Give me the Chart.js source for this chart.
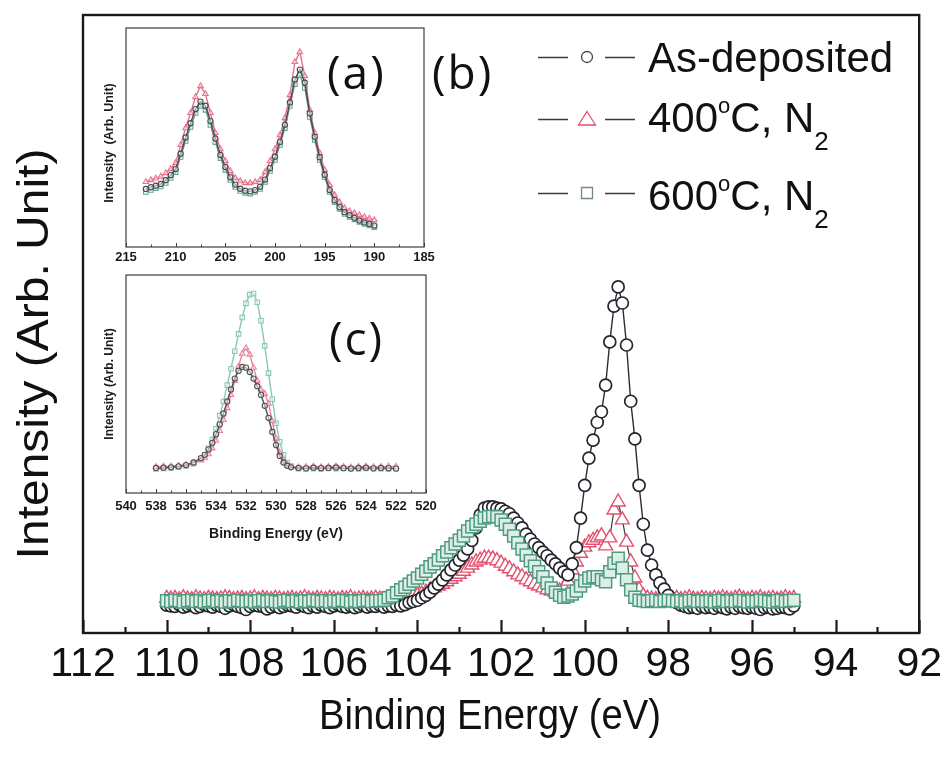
<!DOCTYPE html>
<html>
<head>
<meta charset="utf-8">
<script src="https://cdn.jsdelivr.net/npm/chart.js@4.4.1/dist/chart.umd.min.js"></script>
<style>
  html, body { margin: 0; padding: 0; background: #ffffff; }
  #wrap { position: relative; width: 949px; height: 760px; overflow: hidden; }
  #wrap canvas { position: absolute; }
  #main { left: 0; top: 0; }
  #insetA { left: 95px; top: 20px; }
  #insetC { left: 95px; top: 267px; }
</style>
</head>
<body>
<div id="wrap">
  <canvas id="main" width="949" height="760" style="width:949px;height:760px"></canvas>
  <canvas id="insetA" width="350" height="252" style="width:350px;height:252px"></canvas>
  <canvas id="insetC" width="350" height="285" style="width:350px;height:285px"></canvas>
</div>
<script>
// ---------- Si 2p region (main panel) ----------
const energy = [
  110.0,109.9,109.8,109.7,109.6,109.5,109.4,109.3,109.2,109.1,
  109.0,108.9,108.8,108.7,108.6,108.5,108.4,108.3,108.2,108.1,
  108.0,107.9,107.8,107.7,107.6,107.5,107.4,107.3,107.2,107.1,
  107.0,106.9,106.8,106.7,106.6,106.5,106.4,106.3,106.2,106.1,
  106.0,105.9,105.8,105.7,105.6,105.5,105.4,105.3,105.2,105.1,
  105.0,104.9,104.8,104.7,104.6,104.5,104.4,104.3,104.2,104.1,
  104.0,103.9,103.8,103.7,103.6,103.5,103.4,103.3,103.2,103.1,
  103.0,102.9,102.8,102.7,102.6,102.5,102.4,102.3,102.2,102.1,
  102.0,101.9,101.8,101.7,101.6,101.5,101.4,101.3,101.2,101.1,
  101.0,100.9,100.8,100.7,100.6,100.5,100.4,100.3,100.2,100.1,
  100.0,99.9,99.8,99.7,99.6,99.5,99.4,99.3,99.2,99.1,
  99.0,98.9,98.8,98.7,98.6,98.5,98.4,98.3,98.2,98.1,
  98.0,97.9,97.8,97.7,97.6,97.5,97.4,97.3,97.2,97.1,
  97.0,96.9,96.8,96.7,96.6,96.5,96.4,96.3,96.2,96.1,
  96.0,95.9,95.8,95.7,95.6,95.5,95.4,95.3,95.2,95.1,
  95.0
];
const asDeposited = [
  4.5,4.4,4.3,4.6,4.2,4.4,4.5,4.1,4.3,4.6,
  4.4,4.2,4.5,4.3,4.0,4.4,4.6,4.3,4.1,3.8,
  4.3,4.5,4.4,4.3,3.9,4.2,4.4,4.1,4.3,4.5,
  4.4,4.2,4.6,4.3,4.1,4.4,4.2,4.5,4.3,4.1,
  4.4,4.6,4.3,4.2,4.4,4.1,4.3,4.5,4.2,4.4,
  4.3,4.5,4.2,4.4,4.3,4.5,4.4,4.6,4.9,5.1,
  5.3,5.7,6.1,6.6,7.3,7.9,8.6,9.4,10.2,11.0,
  11.8,12.6,13.6,15.0,17.0,19.1,20.2,20.4,20.4,20.2,
  20.1,19.7,19.3,18.6,17.8,17.0,16.0,15.2,14.4,13.8,
  13.1,12.5,11.8,11.2,10.5,9.9,9.4,11.2,13.8,18.6,
  23.9,28.3,31.2,34.1,35.8,40.1,47.1,52.9,56.0,53.4,
  46.6,37.5,31.4,23.9,17.6,13.4,11.0,9.4,8.1,7.1,
  6.1,5.3,4.9,4.5,4.3,4.1,4.2,4.0,4.3,4.1,
  4.2,4.0,4.3,4.1,3.9,4.2,4.0,4.3,4.1,4.0,
  4.2,4.0,3.8,4.1,4.2,3.9,4.0,4.2,4.1,3.9,
  4.4
];
const annealed400 = [
  5.6,5.5,5.6,5.4,5.7,5.5,5.4,5.7,5.5,5.4,
  5.6,5.5,5.4,5.5,5.7,5.6,5.4,5.5,5.6,5.4,
  5.5,5.7,5.4,5.6,5.5,5.4,5.6,5.5,5.4,5.5,
  5.6,5.4,5.5,5.7,5.5,5.4,5.6,5.5,5.4,5.6,
  5.5,5.4,5.6,5.5,5.7,5.4,5.5,5.6,5.4,5.5,
  5.6,5.5,5.4,5.6,5.5,5.5,5.6,5.7,5.8,6.0,
  6.1,6.3,6.6,7.0,7.3,7.6,7.9,8.3,8.7,9.1,
  9.5,10.0,10.5,11.0,11.5,11.8,12.1,12.1,12.0,11.7,
  11.3,10.8,10.4,9.9,9.4,9.1,8.6,8.3,7.9,7.6,
  7.3,7.0,6.8,6.6,6.8,7.3,8.4,10.2,11.5,12.9,
  13.9,14.6,15.0,15.4,15.7,14.1,15.4,19.9,21.2,18.3,
  14.7,11.5,8.9,7.0,6.0,5.6,5.5,5.4,5.5,5.6,
  5.4,5.5,5.6,5.4,5.5,5.7,5.5,5.4,5.6,5.5,
  5.4,5.6,5.5,5.7,5.5,5.4,5.6,5.8,5.5,5.4,
  5.6,5.5,5.7,5.4,5.5,5.6,5.4,5.5,5.7,5.5,
  5.6
];
const annealed600 = [
  5.2,5.1,5.3,5.2,5.0,5.2,5.3,5.1,5.2,5.0,
  5.2,5.3,5.1,5.2,5.0,5.2,5.1,5.3,5.2,5.1,
  5.2,5.0,5.2,5.3,5.1,5.2,5.1,5.0,5.2,5.3,
  5.1,5.2,5.0,5.2,5.1,5.3,5.2,5.1,5.2,5.0,
  5.2,5.1,5.3,5.2,5.0,5.2,5.1,5.2,5.3,5.1,
  5.2,5.2,5.3,5.7,6.0,6.5,7.0,7.4,7.9,8.4,
  8.9,9.5,10.0,10.7,11.2,11.8,12.5,13.1,13.8,14.4,
  15.0,15.7,16.5,17.2,17.6,18.1,18.6,18.8,18.9,18.8,
  18.3,17.6,16.8,15.7,14.6,13.6,12.6,11.7,10.8,9.9,
  9.1,8.1,7.3,6.6,6.1,5.8,6.0,6.3,6.8,7.6,
  8.4,8.9,9.1,9.1,8.6,8.3,9.9,11.3,12.1,10.5,
  8.6,7.0,5.8,5.3,5.2,5.1,5.2,5.3,5.1,5.2,
  5.3,5.2,5.1,5.2,5.0,5.2,5.3,5.1,5.2,5.1,
  5.2,5.0,5.2,5.3,5.1,5.2,5.1,5.3,5.2,5.0,
  5.2,5.1,5.3,5.2,5.1,5.0,5.2,5.3,5.1,5.2,
  5.3
];
const mainMajorTicks = [112,110,108,106,104,102,100,98,96,94,92];
const mainMinorTicks = [111,109,107,105,103,101,99,97,95,93];
const seriesNames = ['As-deposited', '400', '600'];

// ---------- inset (a): 215-185 eV ----------
const energyA = [
  213.0,212.5,212.0,211.5,211.0,210.5,210.0,209.5,209.0,208.5,
  208.0,207.5,207.0,206.5,206.0,205.5,205.0,204.5,204.0,203.5,
  203.0,202.5,202.0,201.5,201.0,200.5,200.0,199.5,199.0,198.5,
  198.0,197.5,197.0,196.5,196.0,195.5,195.0,194.5,194.0,193.5,
  193.0,192.5,192.0,191.5,191.0,190.5,190.0
];
const insetA_asDep = [
  26.5,27.3,28.0,28.8,30.5,32.8,35.6,42.6,50.0,56.5,
  63.0,66.4,64.5,57.5,49.5,42.0,36.5,31.8,28.5,26.6,
  25.7,25.4,26.0,27.5,30.8,36.0,41.2,48.0,55.8,66.0,
  76.5,81.0,75.0,61.0,50.3,41.0,33.0,26.0,21.4,18.2,
  15.9,14.5,13.3,12.1,11.2,10.5,9.8
];
const insetA_400 = [
  29.7,30.6,31.3,32.2,33.8,35.6,38.4,46.6,54.3,61.2,
  68.5,73.5,69.9,61.2,52.1,44.7,39.3,34.7,31.5,30.1,
  29.2,29.2,29.7,30.6,34.2,39.3,44.7,51.1,58.9,69.4,
  84.5,89.0,78.1,62.6,52.1,42.9,35.2,28.3,23.7,20.5,
  17.8,16.4,15.5,14.6,13.7,13.0,12.3
];
const insetA_600 = [
  25.1,26.0,26.9,27.6,29.2,31.5,34.2,41.1,48.4,54.8,
  61.2,64.4,62.6,55.7,47.9,40.6,35.2,30.6,27.4,25.6,
  24.7,24.4,25.1,26.5,29.7,34.7,39.7,46.6,54.3,64.4,
  74.4,78.5,72.6,59.4,48.9,39.7,32.0,25.1,20.5,17.4,
  15.1,13.7,12.6,11.4,10.5,9.8,9.1
];
const insetA_major = [215,210,205,200,195,190,185];
const insetA_minor = [212.5,207.5,202.5,197.5,192.5,187.5];

// ---------- inset (c): O 1s, 540-520 eV ----------
const energyC = [
  538.0,537.5,537.0,536.5,536.0,535.5,535.0,
  534.75,534.5,534.25,534.0,533.75,533.5,533.25,533.0,532.75,532.5,532.25,532.0,
  531.75,531.5,531.25,531.0,530.75,530.5,530.25,530.0,529.75,529.5,529.25,529.0,
  528.5,528.0,527.5,527.0,526.5,526.0,525.5,525.0,524.5,524.0,523.5,523.0,522.5,522.0
];
const insetC_asDep = [
  11.5,11.6,11.8,12.2,12.8,14.0,16.0,
  17.5,20.0,23.0,27.0,31.5,36.5,42.0,47.5,52.5,56.0,57.8,57.5,
  55.5,52.5,49.0,45.0,40.0,34.5,28.0,22.0,17.0,14.0,12.5,11.8,
  11.5,11.3,11.6,11.4,11.5,11.7,11.4,11.2,11.5,11.6,11.3,11.5,11.4,11.2
];
const insetC_400 = [
  12.0,12.2,12.3,12.6,13.0,13.8,15.0,
  16.0,17.8,20.5,24.0,28.5,33.5,39.0,45.0,51.5,58.0,64.0,66.5,
  63.5,57.5,51.5,47.5,45.5,41.0,33.0,25.0,18.5,14.5,12.8,12.0,
  11.8,12.0,12.2,11.9,12.1,12.3,12.0,11.8,12.1,12.2,11.9,12.0,12.3,12.1
];
const insetC_600 = [
  11.0,11.3,11.5,11.9,12.4,13.5,15.5,
  17.5,20.5,24.5,29.5,35.5,42.0,49.5,57.0,65.0,73.0,80.5,87.0,
  91.0,91.5,87.5,79.0,67.5,55.0,43.0,32.0,23.5,17.5,14.0,12.3,
  11.2,11.0,11.2,11.0,11.3,11.1,11.4,11.2,11.0,11.3,11.1,11.2,11.0,11.1
];
const insetC_major = [540,538,536,534,532,530,528,526,524,522,520];
const insetC_minor = [539,537,535,533,531,529,527,525,523,521];

// ---------- shared helpers ----------
const SANS = "'Liberation Sans', Arial, Helvetica, sans-serif";
const PANEL_FONT = "'Open Sans', Lato, sans-serif";

const pts = (xs, ys) => xs.map((x, i) => ({ x: x, y: ys[i] }));

// Frame around the plot area plus inward ticks on the bottom axis
const frameTicks = {
  id: 'frameTicks',
  afterDatasetsDraw(chart, args, o) {
    const { ctx, chartArea: a } = chart;
    const x = chart.scales.x;
    ctx.save();
    ctx.strokeStyle = o.color;
    ctx.lineWidth = o.tickWidth;
    ctx.beginPath();
    o.major.forEach(v => {
      const px = Math.round(x.getPixelForValue(v)) + 0.5;
      ctx.moveTo(px, a.bottom); ctx.lineTo(px, a.bottom - o.majorLen);
    });
    o.minor.forEach(v => {
      const px = Math.round(x.getPixelForValue(v)) + 0.5;
      ctx.moveTo(px, a.bottom); ctx.lineTo(px, a.bottom - o.minorLen);
    });
    ctx.stroke();
    ctx.lineWidth = o.frameWidth;
    ctx.strokeRect(a.left, a.top, a.right - a.left, a.bottom - a.top);
    ctx.restore();
  }
};

// Axis titles drawn as plain canvas text (optionally narrowed)
const axisTitles = {
  id: 'axisTitles',
  afterDraw(chart, args, o) {
    const ctx = chart.ctx;
    ctx.fillStyle = o.color;
    ctx.textAlign = 'center';
    ctx.textBaseline = 'alphabetic';
    if (o.x) {
      ctx.save();
      ctx.translate(o.x.cx, o.x.base);
      ctx.scale(o.x.squeeze || 1, 1);
      ctx.font = o.x.font;
      ctx.fillText(o.x.text, 0, 0);
      ctx.restore();
    }
    if (o.y) {
      ctx.save();
      ctx.translate(o.y.base, o.y.cy);
      ctx.rotate(-Math.PI / 2);
      ctx.scale(1, o.y.squeeze || 1);
      ctx.font = o.y.font;
      ctx.fillText(o.y.text, 0, 0);
      ctx.restore();
    }
  }
};

// Legend and panel labels of the main figure
const mainDecor = {
  id: 'mainDecor',
  afterDraw(chart) {
    const ctx = chart.ctx;
    ctx.save();
    const rows = [
      { kind: 'circle', cy: 57, base: 72, parts: [['As-deposited', 42, 0]] },
      { kind: 'triangle', cy: 119, base: 132, parts: [['400', 42, 0], ['o', 22, -19], ['C, N', 42, 0], ['2', 26, 18]] },
      { kind: 'square', cy: 193, base: 210, parts: [['600', 42, 0], ['o', 22, -19], ['C, N', 42, 0], ['2', 26, 18]] }
    ];
    rows.forEach(r => {
      ctx.strokeStyle = '#3b3b40';
      ctx.lineWidth = 1.4;
      ctx.beginPath();
      ctx.moveTo(538, r.cy + 0.5); ctx.lineTo(568, r.cy + 0.5);
      ctx.moveTo(605, r.cy + 0.5); ctx.lineTo(635, r.cy + 0.5);
      ctx.stroke();
      ctx.lineWidth = 1.3;
      ctx.beginPath();
      if (r.kind === 'circle') {
        ctx.strokeStyle = '#45454c';
        ctx.arc(587, r.cy, 5.5, 0, Math.PI * 2);
      } else if (r.kind === 'triangle') {
        ctx.strokeStyle = '#e0506c';
        ctx.moveTo(587, r.cy - 7.5); ctx.lineTo(595.5, r.cy + 6); ctx.lineTo(578.5, r.cy + 6); ctx.closePath();
      } else {
        ctx.strokeStyle = '#6f8c80';
        ctx.rect(581.5, r.cy - 5.5, 11, 11);
      }
      ctx.stroke();
      let x = 648;
      ctx.fillStyle = '#111111';
      ctx.textAlign = 'left';
      ctx.textBaseline = 'alphabetic';
      r.parts.forEach(p => {
        ctx.font = p[1] + 'px ' + SANS;
        ctx.fillText(p[0], x, r.base + p[2]);
        x += ctx.measureText(p[0]).width;
      });
    });
    // panel labels
    ctx.fillStyle = '#111111';
    ctx.font = '46px ' + PANEL_FONT;
    ctx.textAlign = 'left';
    ctx.textBaseline = 'alphabetic';
    ctx.letterSpacing = '2px';
    ctx.fillText('(a)', 327, 89);
    ctx.fillText('(b)', 432, 89);
    ctx.fillText('(c)', 329, 355);
    ctx.restore();
  }
};

// ---------- main chart ----------
new Chart(document.getElementById('main'), {
  type: 'line',
  data: {
    datasets: [
      {
        label: seriesNames[2], data: pts(energy, annealed600), order: 1,
        borderColor: '#3a3a40', borderWidth: 1.2, tension: 0,
        pointStyle: 'rect', pointRadius: 8.5, pointBorderWidth: 1.5,
        pointBorderColor: '#4f9a80', pointBackgroundColor: '#dcefe7'
      },
      {
        label: seriesNames[0], data: pts(energy, asDeposited), order: 2,
        borderColor: '#2c2c34', borderWidth: 1.4, tension: 0,
        pointStyle: 'circle', pointRadius: 6, pointBorderWidth: 1.7,
        pointBorderColor: '#25252e', pointBackgroundColor: '#ffffff'
      },
      {
        label: seriesNames[1], data: pts(energy, annealed400), order: 3,
        borderColor: '#3a3a40', borderWidth: 1.2, tension: 0,
        pointStyle: 'triangle', pointRadius: 8, pointBorderWidth: 1.4,
        pointBorderColor: '#e2506e', pointBackgroundColor: '#ffffff'
      }
    ]
  },
  options: {
    responsive: false, animation: false, devicePixelRatio: 1,
    layout: { padding: { left: 83, right: 26, top: 15, bottom: 0 } },
    scales: {
      x: {
        type: 'linear', min: 92, max: 112, reverse: true,
        afterFit: s => { s.height = 127; },
        afterBuildTicks: s => { s.ticks = mainMajorTicks.map(v => ({ value: v })); },
        grid: { display: false, drawTicks: false },
        border: { display: false },
        ticks: { autoSkip: false, maxRotation: 0, padding: 7, color: '#111111',
                 font: { family: SANS, size: 41 } }
      },
      y: { type: 'linear', min: 0, max: 100, display: false }
    },
    plugins: {
      legend: { display: false }, tooltip: { enabled: false },
      frameTicks: { color: '#1a1a1e', frameWidth: 2.4, tickWidth: 2.2, majorLen: 13, minorLen: 6,
                    major: mainMajorTicks, minor: mainMinorTicks },
      axisTitles: {
        color: '#111111',
        x: { text: 'Binding Energy (eV)', font: '42px ' + SANS, cx: 490, base: 729, squeeze: 0.91 },
        y: { text: 'Intensity (Arb. Unit)', font: '48px ' + SANS, cy: 354, base: 48, squeeze: 0.92 }
      }
    }
  },
  plugins: [frameTicks, axisTitles, mainDecor]
});

// ---------- insets ----------
function insetChart(id, xs, series, colors, xr, major, minor, pad, axisH, tickPad, titles) {
  return new Chart(document.getElementById(id), {
    type: 'line',
    data: {
      datasets: series.map((ys, i) => ({
        data: pts(xs, ys), tension: 0,
        borderColor: colors[i], borderWidth: 1.4,
        pointStyle: ['circle', 'triangle', 'rect'][i], pointRadius: [2.6, 3.2, 3.2][i],
        pointBorderWidth: 1.1, pointBorderColor: colors[i], pointBackgroundColor: 'rgba(255,255,255,0.5)'
      }))
    },
    options: {
      responsive: false, animation: false, devicePixelRatio: 1,
      layout: { padding: pad },
      scales: {
        x: {
          type: 'linear', min: xr[0], max: xr[1], reverse: true,
          afterFit: s => { s.height = axisH; },
          afterBuildTicks: s => { s.ticks = major.map(v => ({ value: v })); },
          grid: { display: false, drawTicks: false },
          border: { display: false },
          ticks: { autoSkip: false, maxRotation: 0, padding: tickPad, color: '#1a1a1a',
                   font: { family: SANS, size: 13, weight: 'bold' } }
        },
        y: { type: 'linear', min: 0, max: 100, display: false }
      },
      plugins: {
        legend: { display: false }, tooltip: { enabled: false },
        frameTicks: { color: '#3a3d48', frameWidth: 1.2, tickWidth: 1, majorLen: 4, minorLen: 2.5,
                      major: major, minor: minor },
        axisTitles: titles
      }
    },
    plugins: [frameTicks, axisTitles]
  });
}

insetChart('insetA', energyA, [insetA_asDep, insetA_400, insetA_600],
  ['#4a4a52', '#e8718a', '#62a88d'], [185, 215], insetA_major, insetA_minor,
  { left: 31, top: 8, right: 21, bottom: 0 }, 25, 3,
  { color: '#1a1a1a', y: { text: 'Intensity  (Arb. Unit)', font: 'bold 12.5px ' + SANS, cy: 123, base: 18 } });

insetChart('insetC', energyC, [insetC_asDep, insetC_400, insetC_600],
  ['#505058', '#e8849b', '#88c9b4'], [520, 540], insetC_major, insetC_minor,
  { left: 31, top: 8, right: 19, bottom: 0 }, 59, 6,
  { color: '#1a1a1a',
    x: { text: 'Binding Energy (eV)', font: 'bold 14px ' + SANS, cx: 181, base: 271 },
    y: { text: 'Intensity (Arb. Unit)', font: 'bold 12px ' + SANS, cy: 117, base: 18 } });
</script>
</body>
</html>
